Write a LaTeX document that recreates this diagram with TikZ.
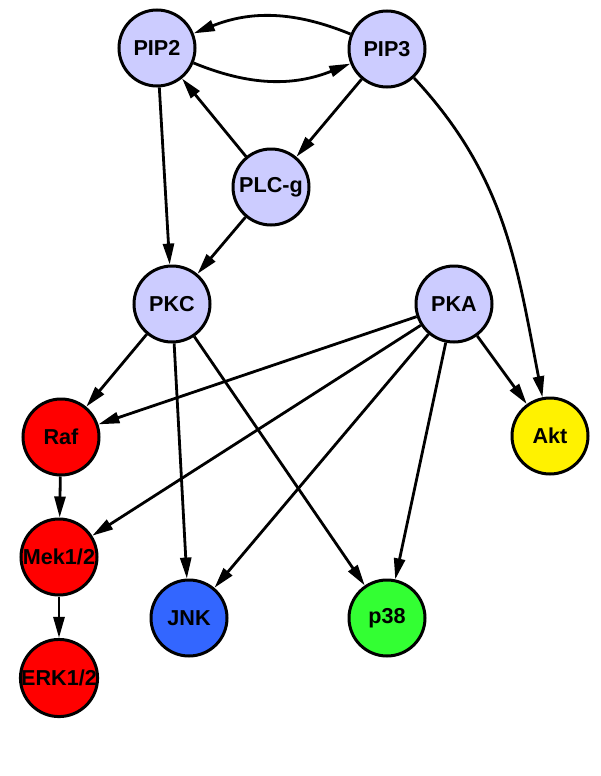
\documentclass[tikz,border=0pt]{standalone}
\usepackage{fontspec}
\setmainfont{Liberation Sans}
\usetikzlibrary{arrows.meta,positioning}
\definecolor{lav}{RGB}{204,204,255}
\definecolor{jnkblue}{RGB}{51,102,255}
\definecolor{pgreen}{RGB}{51,255,51}

\begin{document}
\begin{tikzpicture}[x=0.5pt,y=0.5pt,
    prot/.style={circle, draw, line width=1.5pt, minimum size=38pt, inner sep=0pt,
        font=\fontsize{10.8}{12}\selectfont\bfseries},
    link/.style={-{Triangle[length=10.5pt,width=5.5pt]}, line width=1.4pt},]
\useasboundingbox (0,0) rectangle (600,-776);

    \node[prot, fill=lav] (pip2) at (157,-48) {PIP2};
    \node[prot, fill=lav] (pip3) at (387,-49) {PIP3};
    \node[prot, fill=lav] (plcg) at (271,-187) {PLC-g};
    \node[prot, fill=lav] (pkc) at (172,-304) {PKC};
    \node[prot, fill=lav] (pka) at (454,-304) {PKA};
    \node[prot, fill=red] (raf) at (61,-437) {Raf};
    \node[prot, fill=yellow] (akt) at (550,-436) {Akt};
    \node[prot, fill=red] (mek) at (59,-557) {Mek1/2};
    \node[prot, fill=red] (erk) at (59,-678) {ERK1/2};
    \node[prot, fill=jnkblue] (jnk) at (189,-618) {JNK};
    \node[prot, fill=pgreen] (p38) at (387,-618) {p38};

    \foreach \a/\b in {pip2/pkc, plcg/pip2, pip3/plcg, plcg/pkc,
        pkc/raf, pkc/jnk, pkc/p38, pka/raf, pka/mek, pka/jnk, pka/p38, pka/akt,
        raf/mek, mek/erk}
    \draw [link] (\a) -- (\b);

    \draw [link] (pip3) to[bend right=22] (pip2);
    \draw [link] (pip2) to[bend right=22] (pip3);
    \draw [link] (pip3) to[out=-47, in=101] (akt);

\end{tikzpicture}
\end{document}
